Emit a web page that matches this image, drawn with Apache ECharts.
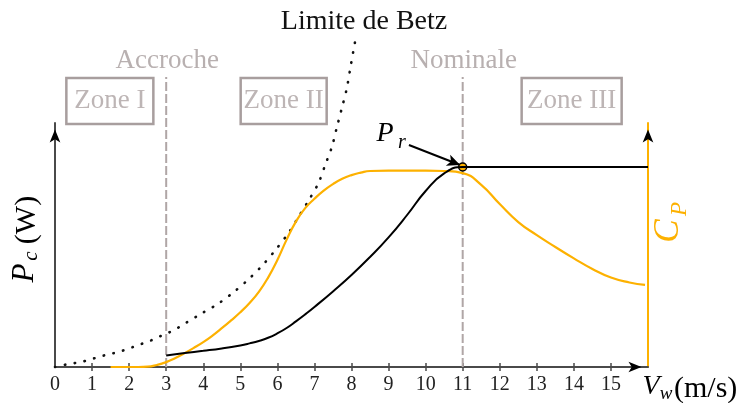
<!DOCTYPE html>
<html><head><meta charset="utf-8">
<script src="https://cdn.jsdelivr.net/npm/echarts@6/dist/echarts.min.js"></script>
<style>html,body{margin:0;padding:0;background:#fff}#c{width:740px;height:403px}</style>
</head><body><div id="c"></div>
<script>
const FONT = 'Liberation Serif';
const ORANGE = '#FDB100';
const AXIS = '#4a4a4a';
const GREY_LINE = '#b0a6a6';
const GREY_TEXT = '#b8b0b0';

// x axis
const tickLabels = [0,1,2,3,4,5,6,7,8,9,10,11,12,13,14,15];
const tickValues = [1,2,3,4,5,6,7,8,9,10,11,12,13,14,15];

// Betz limit (normalised power, P_r = 1)
const betzV = [0,0.29,0.55,0.81,1.07,1.33,1.58,1.83,2.09,2.33,2.58,2.83,3.07,3.31,3.53,3.98,4.43,4.86,5.26,5.63,5.97,6.3,6.57,6.85,7.11,7.29,7.47,7.6,7.74,7.87,7.96,8.05,8.1];
const betzP = [0,0.012,0.02,0.03,0.044,0.058,0.069,0.082,0.099,0.115,0.132,0.153,0.172,0.195,0.22,0.27,0.32,0.38,0.445,0.515,0.59,0.67,0.75,0.835,0.92,1.01,1.10,1.195,1.295,1.39,1.485,1.58,1.63];

// captured power P_c (normalised)
const pcV = [3,3.5,4,4.5,5,5.25,5.5,5.75,6,6.25,6.5,6.75,7,7.5,8,8.5,9,9.5,10,10.5,11,16];
const pcP = [0.058,0.07,0.081,0.093,0.108,0.118,0.13,0.146,0.168,0.195,0.228,0.263,0.30,0.378,0.46,0.55,0.648,0.76,0.88,0.968,1.0,1.0];

// power coefficient C_P
const cpV = [1.5,2,2.25,2.5,2.75,3,3.25,3.5,3.75,4,4.25,4.5,4.75,5,5.25,5.5,5.75,6,6.25,6.5,6.75,7,7.25,7.5,7.75,8,8.25,8.5,9,9.5,10,10.5,11,11.5,12,12.5,13,13.5,14,14.5,15,15.5,15.92];
const cpC = [0,0,0,0.0007,0.005,0.012,0.022,0.034,0.047,0.061,0.077,0.095,0.114,0.134,0.157,0.184,0.219,0.262,0.312,0.356,0.389,0.412,0.432,0.448,0.461,0.470,0.476,0.480,0.481,0.481,0.481,0.480,0.475,0.446,0.399,0.355,0.323,0.294,0.266,0.240,0.219,0.207,0.201];

// markers
const ratedV = 11, ratedP = 1.0, cutInV = 3, guideTop = 1.45;
const guideNames = ['Accroche','Nominale'];
const zones = ['Zone I','Zone II','Zone III'];
const zoneCenters = [1.48, 6.17, 13.94];
const zoneWidths = [87, 86, 100];

const pMax = 1.22, cpMax = 0.5976, vMax = 16;

const zip = (a, b) => a.map((v, i) => [v, b[i]]);

const xBase = {
  type:'value', min:0, max:vMax, interval:1, gridIndex:0,
  splitLine:{show:false}
};

const guideSeries = [cutInV, ratedV].map(v => ({
  type:'line', xAxisIndex:0, yAxisIndex:0, clip:false, silent:true,
  data:[[v,0],[v,guideTop]], showSymbol:false, symbol:'none',
  lineStyle:{color:GREY_LINE, width:2, type:[9,3]}, z:2
}));

const option = {
  animation:false,
  grid:{left:55, right:92, top:123, bottom:36, outerBoundsMode:'none', containLabel:false},
  xAxis:[
    Object.assign({}, xBase, {
      position:'bottom',
      axisLine:{show:true, onZero:false, lineStyle:{color:AXIS, width:2}},
      axisTick:{show:true, length:4, inside:false, customValues:tickValues, lineStyle:{color:AXIS, width:1.5}},
      axisLabel:{show:true, customValues:tickLabels, fontFamily:FONT, fontSize:20, color:'#222', margin:8}
    }),
    Object.assign({}, xBase, {
      position:'bottom',
      axisLine:{show:false, onZero:false},
      axisTick:{show:true, length:4, inside:true, customValues:tickValues, lineStyle:{color:AXIS, width:1.5}},
      axisLabel:{show:false}
    })
  ],
  yAxis:[
    {type:'value', min:0, max:pMax, position:'left',
     axisLine:{show:true, onZero:false, lineStyle:{color:AXIS, width:2}},
     axisTick:{show:false}, axisLabel:{show:false}, splitLine:{show:false}},
    {type:'value', min:0, max:cpMax, position:'right',
     axisLine:{show:true, onZero:false, lineStyle:{color:ORANGE, width:2}},
     axisTick:{show:false}, axisLabel:{show:false}, splitLine:{show:false}}
  ],
  series:guideSeries.concat([
    {
      name:'Betz', type:'line', xAxisIndex:0, yAxisIndex:0, clip:false,
      data:zip(betzV, betzP), smooth:0.3, showSymbol:false, symbol:'none',
      lineStyle:{color:'#111', width:2.6, type:[0.5, 9.5], cap:'round'},
      z:3
    },
    {
      name:'Cp', type:'line', xAxisIndex:0, yAxisIndex:1,
      data:zip(cpV, cpC), smooth:0.5, showSymbol:false, symbol:'none',
      lineStyle:{color:ORANGE, width:2.2}, z:4,
      markPoint:{
        silent:true, animation:false, label:{show:false},
        data:[{coord:[vMax, cpMax], symbol:'arrow', symbolSize:[8,13], symbolOffset:[0,6.5], itemStyle:{color:'#000'}}]
      }
    },
    {
      name:'Pc', type:'line', xAxisIndex:0, yAxisIndex:0,
      data:zip(pcV, pcP), smooth:0.5, showSymbol:false, symbol:'none',
      lineStyle:{color:'#000', width:2}, z:5,
      markLine:{
        silent:true, animation:false, symbol:['none','arrow'], symbolSize:[9,13],
        label:{show:false},
        lineStyle:{color:'#000', width:2, type:'solid'},
        data:[[{coord:[9.55,1.11]},{coord:[10.93,1.01]}]]
      },
      markPoint:{
        silent:true, animation:false, label:{show:false},
        data:[
          {coord:[0,pMax], symbol:'arrow', symbolSize:[8,13], symbolOffset:[0,6.5], itemStyle:{color:'#000'}},
          {coord:[vMax,0], symbol:'arrow', symbolSize:[8,13], symbolRotate:-90, symbolOffset:[-6.5,0], itemStyle:{color:'#000'}},
          {coord:[ratedV,ratedP], symbol:'circle', symbolSize:8, itemStyle:{color:ORANGE, borderColor:'#000', borderWidth:1.5}}
        ]
      }
    }
  ])
};

const chart = echarts.init(document.getElementById('c'));
chart.setOption(option);

const F = (s, style) => (style ? style + ' ' : '') + s + 'px "' + FONT + '"';
const g = [];
zones.forEach((z, i) => {
  const cx = chart.convertToPixel({xAxisIndex:0}, zoneCenters[i]);
  const w = zoneWidths[i];
  g.push({type:'rect', shape:{x:cx - w/2, y:78, width:w, height:46}, style:{fill:'none', stroke:'#a89e9e', lineWidth:2.5}, z:10});
  g.push({type:'text', x:cx, y:101, style:{text:z, font:F(27), fill:'#bdb5b5', align:'center', verticalAlign:'middle'}, z:10});
});
[cutInV, ratedV].forEach((v, i) => {
  const p = chart.convertToPixel({xAxisIndex:0, yAxisIndex:0}, [v, guideTop]);
  g.push({type:'text', x:p[0] + 1, y:p[1] - 16, style:{text:guideNames[i], font:F(27), fill:GREY_TEXT, align:'center', verticalAlign:'middle'}});
});
// Betz label
g.push({type:'text', x:364, y:22, style:{text:'Limite de Betz', font:F(28), fill:'#111', align:'center', verticalAlign:'middle'}});
// P_r label
g.push({type:'text', x:385, y:134, style:{text:'P', font:F(28,'italic'), fill:'#000', align:'center', verticalAlign:'middle'}});
g.push({type:'text', x:402, y:143, style:{text:'r', font:F(20,'italic'), fill:'#000', align:'center', verticalAlign:'middle'}});
// P_c (W) rotated
g.push({type:'text', x:25, y:273, rotation:Math.PI/2, style:{text:'P', font:F(31,'italic'), fill:'#000', align:'center', verticalAlign:'middle'}});
g.push({type:'text', x:31, y:256, rotation:Math.PI/2, style:{text:'c', font:F(21,'italic'), fill:'#000', align:'center', verticalAlign:'middle'}});
g.push({type:'text', x:27, y:220, rotation:Math.PI/2, style:{text:'(W)', font:F(30), fill:'#000', align:'center', verticalAlign:'middle'}});
// C_P rotated
g.push({type:'text', x:669, y:231, rotation:Math.PI/2, style:{text:'C', font:F(35,'italic'), fill:ORANGE, align:'center', verticalAlign:'middle'}});
g.push({type:'text', x:680, y:209, rotation:Math.PI/2, style:{text:'P', font:F(23,'italic'), fill:ORANGE, align:'center', verticalAlign:'middle'}});
// V_w (m/s)
g.push({type:'text', x:651, y:387, style:{text:'V', font:F(28,'italic'), fill:'#000', align:'center', verticalAlign:'middle'}});
g.push({type:'text', x:666, y:394, style:{text:'w', font:F(19,'italic'), fill:'#000', align:'center', verticalAlign:'middle'}});
g.push({type:'text', x:674, y:389, style:{text:'(m/s)', font:F(30), fill:'#000', align:'left', verticalAlign:'middle'}});
chart.setOption({graphic:{elements:g}});
</script>
</body></html>
